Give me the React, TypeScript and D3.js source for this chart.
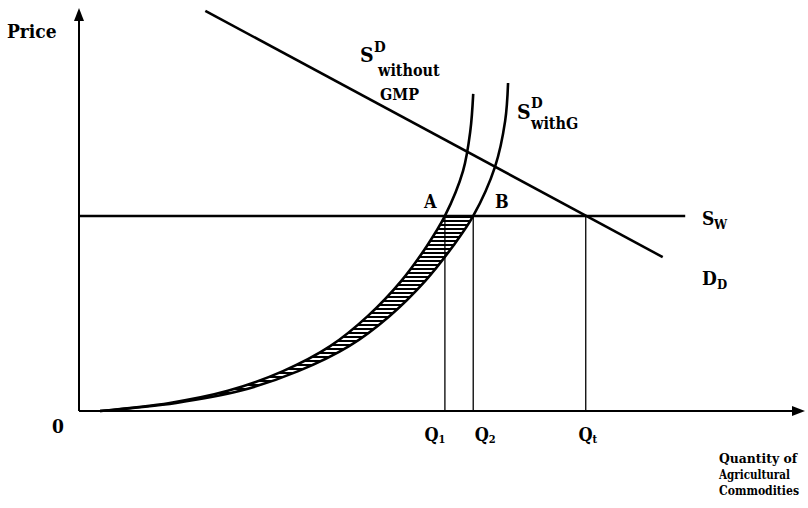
import React from 'react';
import * as d3 from 'd3';

// readings in chart units (quantity 0-100 along the axis, price 0-100 up the axis)
const supplyWithoutGMP: [number, number][] = [
  [2.9, 0], [12.5, 2.0], [20.5, 5.0], [28.1, 9.9], [34.6, 16.1], [39.8, 23.6],
  [44.4, 32.3], [47.9, 40.9], [50.4, 48.4], [52.9, 59.6], [53.9, 69.5], [54.3, 78.7],
];
const supplyWithGMP: [number, number][] = [
  [2.9, 0], [13.4, 2.0], [22.2, 5.0], [30.2, 9.9], [37.2, 16.1], [42.8, 23.6],
  [47.7, 32.3], [51.5, 40.9], [54.3, 48.4], [57.3, 60.6], [58.7, 72.0], [59.1, 81.4],
];
const demand: [number, number][] = [[17.4, 99.3], [80.4, 38.2]];
const worldPrice = 48.4;
const worldSupplyEnd = 83.5;
const quantities = [
  { name: 'Q', sub: '1', q: 50.4, dx: -10 },
  { name: 'Q', sub: '2', q: 54.3, dx: 12 },
  { name: 'Q', sub: 't', q: 69.8, dx: 2 },
];
const xAxisLabel = ['Quantity of', 'Agricultural', 'Commodities'];
const xAxisLabelWidths = [78, 71, 80];

const W = 808;
const H = 508;
const FONT = "'DejaVu Serif Condensed', 'DejaVu Serif', serif";

export default function App() {
  const x = d3.scaleLinear().domain([0, 100]).range([79, 805]);
  const y = d3.scaleLinear().domain([0, 100]).range([411, 8]);

  const curve = d3
    .line<[number, number]>()
    .x((d) => x(d[0]))
    .y((d) => y(d[1]))
    .curve(d3.curveCatmullRom.alpha(0.5));
  const straight = d3
    .line<[number, number]>()
    .x((d) => x(d[0]))
    .y((d) => y(d[1]));

  // band between the two supply curves, clipped under the world price
  const band =
    curve(supplyWithGMP) + 'L' + (curve([...supplyWithoutGMP].reverse()) || '').slice(1) + 'Z';

  const x0 = x(0);
  const y0 = y(0);
  const yTop = y(100);
  const xEnd = x(100);
  const ts = { fontFamily: FONT, fontWeight: 'bold' as const };

  return (
    <svg
      width={W}
      height={H}
      style={{ position: 'absolute', left: 0, top: 0, background: '#fff', fontFamily: FONT }}
    >
      <defs>
        <pattern id="hatch" width="6" height="4" patternUnits="userSpaceOnUse">
          <rect width="6" height="4" fill="#fff" />
          <rect width="6" height="2" fill="#000" />
        </pattern>
        <clipPath id="belowWorld">
          <rect x={x0} y={y(worldPrice)} width={xEnd - x0} height={y0 - y(worldPrice)} />
        </clipPath>
      </defs>

      {/* hatched area */}
      <path d={band} fill="url(#hatch)" stroke="none" clipPath="url(#belowWorld)" />

      {/* axes */}
      <line x1={x0} y1={y0} x2={x0} y2={yTop + 8} stroke="#000" strokeWidth={2} />
      <polygon points={`${x0},${yTop} ${x0 - 5},${yTop + 13} ${x0 + 5},${yTop + 13}`} fill="#000" />
      <line x1={x0} y1={y0} x2={xEnd - 8} y2={y0} stroke="#000" strokeWidth={2.2} />
      <polygon points={`${xEnd},${y0} ${xEnd - 13},${y0 - 5} ${xEnd - 13},${y0 + 5}`} fill="#000" />

      {/* quantity drop lines */}
      {quantities.map((d) => (
        <line
          key={d.sub}
          x1={x(d.q)}
          x2={x(d.q)}
          y1={y(worldPrice)}
          y2={y0}
          stroke="#000"
          strokeWidth={1.3}
        />
      ))}

      {/* world supply */}
      <line
        x1={x0}
        x2={x(worldSupplyEnd)}
        y1={y(worldPrice)}
        y2={y(worldPrice)}
        stroke="#000"
        strokeWidth={2.4}
      />

      {/* demand */}
      <path d={straight(demand) || ''} fill="none" stroke="#000" strokeWidth={2.6} />

      {/* supply curves */}
      <path d={curve(supplyWithoutGMP) || ''} fill="none" stroke="#000" strokeWidth={2.6} />
      <path d={curve(supplyWithGMP) || ''} fill="none" stroke="#000" strokeWidth={2.6} />

      {/* labels */}
      <text style={ts} x={7} y={38} fontSize={19}>Price</text>
      <text style={ts} x={52} y={433} fontSize={19}>0</text>

      <text style={ts} x={360} y={62} fontSize={21}>S</text>
      <text style={ts} x={374} y={52} fontSize={15}>D</text>
      <text style={ts} x={378} y={76} fontSize={16}>without</text>
      <text style={ts} x={380} y={100} fontSize={16}>GMP</text>

      <text style={ts} x={517} y={119} fontSize={21}>S</text>
      <text style={ts} x={531} y={108} fontSize={15}>D</text>
      <text style={ts} x={531} y={129} fontSize={16}>withG</text>

      <text style={ts} x={424} y={208} fontSize={18}>A</text>
      <text style={ts} x={495} y={208} fontSize={18}>B</text>

      <text style={ts} x={702} y={225} fontSize={19}>S</text>
      <text style={ts} x={714} y={229} fontSize={13}>W</text>
      <text style={ts} x={702} y={285} fontSize={19}>D</text>
      <text style={ts} x={717} y={289} fontSize={13}>D</text>

      {quantities.map((d) => (
        <text key={d.sub} style={ts} x={x(d.q) + d.dx} y={441} fontSize={18} textAnchor="middle">
          {d.name}
          <tspan fontSize={11} dy={2}>{d.sub}</tspan>
        </text>
      ))}

      {xAxisLabel.map((t, i) => (
        <text
          key={t}
          style={ts}
          x={719}
          y={463 + i * 16}
          fontSize={12.5}
          textLength={xAxisLabelWidths[i]}
          lengthAdjust="spacingAndGlyphs"
        >
          {t}
        </text>
      ))}
    </svg>
  );
}
